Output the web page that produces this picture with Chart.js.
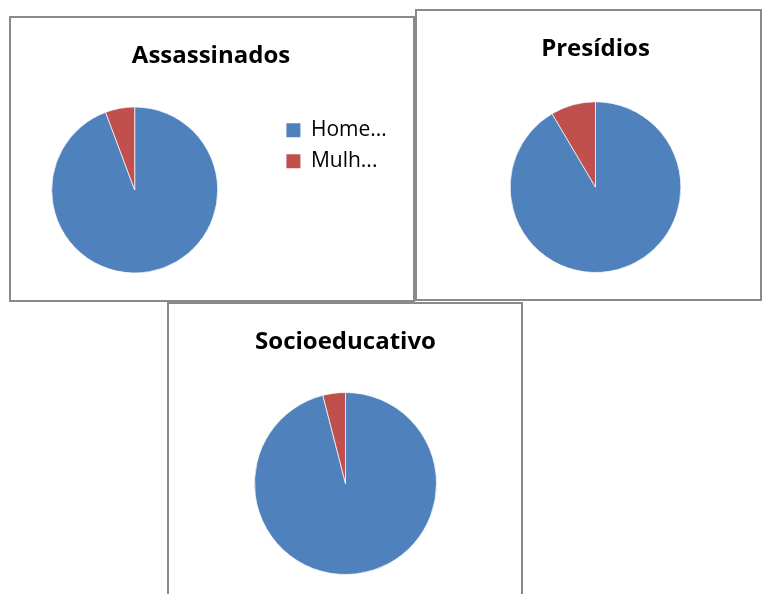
<!DOCTYPE html>
<html lang="pt">
<head>
<meta charset="utf-8">
<title>Homens e mulheres</title>
<script src="https://cdn.jsdelivr.net/npm/chart.js"></script>
<style>
  html, body { margin: 0; padding: 0; background: #fff; overflow: hidden; }
  .box { position: absolute; box-sizing: border-box; border: 2px solid #8a8a8a; background: #fff; }
  .box canvas { position: absolute; left: 0; top: 0; }
</style>
</head>
<body>
<div class="box" style="left:9px; top:16px; width:406px; height:286px;">
  <canvas id="assassinados" width="436" height="282" style="left:-18px;"></canvas>
</div>
<div class="box" style="left:415px; top:9px; width:347px; height:292px;">
  <canvas id="presidios" width="343" height="288"></canvas>
</div>
<div class="box" style="left:167px; top:302px; width:356px; height:320px;">
  <canvas id="socioeducativo" width="352" height="300"></canvas>
</div>

<script>
  // Data
  const labels = ['Homens', 'Mulheres'];
  const assassinados = [94.3, 5.7];
  const presidios = [91.5, 8.5];
  const socioeducativo = [96, 4];
  const sliceColors = ['#4F81BD', '#C0504D'];

  const fontFamily = "'Open Sans', sans-serif";
  Chart.defaults.font.family = fontFamily;
  Chart.defaults.color = '#000';

  // Legend text is cut off like in the original ("Home...", "Mulh...")
  const shortText = t => t.slice(0, 4) + '...';
  function shortLabels(chart) {
    const items = Chart.overrides.doughnut.plugins.legend.labels.generateLabels(chart);
    items.forEach(item => {
      item.text = shortText(item.text);
      item.lineWidth = 0;
    });
    return items;
  }

  // legend + empty block on the right push the pie left of the title
  const legendFont = 21, legendBox = 14, legendPad = 10;
  const measure = document.createElement('canvas').getContext('2d');
  measure.font = legendFont + 'px ' + fontFamily;
  const textW = Math.max(...labels.map(l => measure.measureText(shortText(l)).width));
  const legendW = legendPad + legendBox + legendFont / 2 + textW + 10;
  const spacerW = Math.max(164 - legendW, 2);

  function makePie(id, title, values, extra) {
    return new Chart(document.getElementById(id), {
      type: 'pie',
      data: {
        labels: labels,
        datasets: [{
          data: values,
          backgroundColor: sliceColors,
          borderColor: 'rgba(255,255,255,0.7)',
          borderWidth: 1
        }]
      },
      options: {
        responsive: false,
        animation: false,
        layout: { padding: extra.padding },
        plugins: {
          title: {
            display: true,
            text: title,
            font: { size: 24, weight: 'bold' },
            padding: { top: 24, bottom: extra.titleGap }
          },
          subtitle: extra.spacer || { display: false },
          legend: extra.legend || { display: false },
          tooltip: { enabled: false }
        }
      }
    });
  }

  // Assassinados - legend on the right
  makePie('assassinados', 'Assassinados', assassinados, {
    padding: { left: 0, right: 0, top: 0, bottom: 26.5 },
    titleGap: 35.7,
    legend: {
      display: true,
      position: 'right',
      labels: {
        boxWidth: legendBox,
        boxHeight: legendBox,
        padding: legendPad,
        font: { size: legendFont },
        generateLabels: shortLabels
      }
    },
    spacer: {
      display: true,
      text: '',
      position: 'right',
      font: { size: 2, lineHeight: 1 },
      padding: { top: 0, bottom: spacerW - 2 }
    }
  });

  // Presidios
  makePie('presidios', 'Presídios', presidios, {
    padding: { left: 14, right: 0, top: 0, bottom: 26 },
    titleGap: 37.5
  });

  // Socioeducativo
  makePie('socioeducativo', 'Socioeducativo', socioeducativo, {
    padding: { left: 1, right: 0, top: 0, bottom: 29 },
    titleGap: 35.2
  });
</script>
</body>
</html>
